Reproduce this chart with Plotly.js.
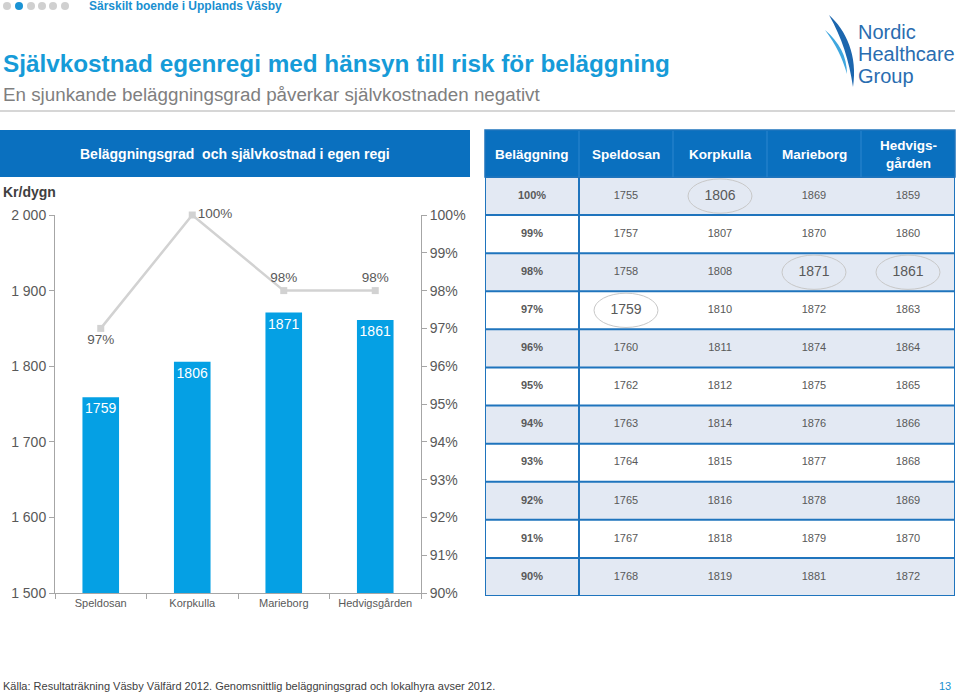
<!DOCTYPE html>
<html>
<head>
<meta charset="utf-8">
<script src="https://cdn.plot.ly/plotly-3.0.1.min.js"></script>
<style>
  html, body { margin: 0; padding: 0; background: #ffffff; }
  #chart { width: 960px; height: 694px; }
</style>
</head>
<body>
<div id="chart"></div>
<script>
// ---------- DATA ----------
const units = ['Speldosan', 'Korpkulla', 'Marieborg', 'Hedvigsgården'];
const costPerDay = [1759, 1806, 1871, 1861];
const occupancy = [0.97, 1.00, 0.98, 0.98];

const tableHeader = ['Beläggning', 'Speldosan', 'Korpkulla', 'Marieborg', 'Hedvigs-<br>gården'];
const tableOccupancy = ['100%', '99%', '98%', '97%', '96%', '95%', '94%', '93%', '92%', '91%', '90%'];
const tableSpeldosan = [1755, 1757, 1758, 1759, 1760, 1762, 1763, 1764, 1765, 1767, 1768];
const tableKorpkulla = [1806, 1807, 1808, 1810, 1811, 1812, 1814, 1815, 1816, 1818, 1819];
const tableMarieborg = [1869, 1870, 1871, 1872, 1874, 1875, 1876, 1877, 1878, 1879, 1881];
const tableHedvigsgarden = [1859, 1860, 1861, 1863, 1864, 1865, 1866, 1868, 1869, 1870, 1872];

// ---------- HELPERS ----------
const W = 960, H = 694;
const px = x => x / W;
const py = y => 1 - y / H;
const FONT = 'Liberation Sans, Arial, sans-serif';
const GRAY = '#595959';
const BLUE_HDR = '#0a70bf';
const BLUE_BAR = '#05a0e4';
const BLUE_LINE = '#1f74bd';

const tableCols = [tableSpeldosan, tableKorpkulla, tableMarieborg, tableHedvigsgarden];
const nRows = tableOccupancy.length;
const pctLabel = v => Math.round(v * 100) + '%';

// which table cell matches each unit's actual occupancy
const highlight = occupancy.map((v, c) => ({ col: c + 1, row: tableOccupancy.indexOf(pctLabel(v)) }));

// ---------- TRACES ----------
const traces = [];

traces.push({
  type: 'bar', x: units, y: costPerDay, xaxis: 'x', yaxis: 'y',
  marker: { color: BLUE_BAR }, width: 0.4,
  text: costPerDay.map(String), textposition: 'inside', insidetextanchor: 'end',
  textangle: 0, constraintext: 'none',
  textfont: { color: '#ffffff', size: 14, family: FONT },
  hoverinfo: 'skip', showlegend: false
});

traces.push({
  type: 'scatter', x: units, y: occupancy, xaxis: 'x', yaxis: 'y2',
  mode: 'lines+markers+text',
  line: { color: '#d2d2d2', width: 2.5 },
  marker: { symbol: 'square', size: 7, color: '#d2d2d2' },
  text: occupancy.map(pctLabel),
  textposition: ['bottom center', 'middle right', 'top center', 'top center'],
  textfont: { color: GRAY, size: 13.5, family: FONT },
  cliponaxis: false, hoverinfo: 'skip', showlegend: false
});

// table background (alternating rows)
traces.push({
  type: 'heatmap', xaxis: 'x3', yaxis: 'y3',
  x: [0, 1, 2, 3, 4], y: tableOccupancy.map((_, i) => i),
  z: tableOccupancy.map((_, i) => [0, 1, 2, 3, 4].map(() => i % 2)),
  colorscale: [[0, '#e3e9f3'], [1, '#ffffff']], zmin: 0, zmax: 1,
  showscale: false, hoverinfo: 'skip'
});

// table first column text
traces.push({
  type: 'scatter', mode: 'text', xaxis: 'x3', yaxis: 'y3',
  x: tableOccupancy.map(() => 0), y: tableOccupancy.map((_, i) => i),
  text: tableOccupancy.map(t => '<b>' + t + '</b>'),
  textfont: { color: GRAY, size: 11, family: FONT },
  textposition: 'middle center', hoverinfo: 'skip', showlegend: false, cliponaxis: false
});

// table value text
const vx = [], vy = [], vt = [], vs = [];
tableCols.forEach((col, c) => {
  col.forEach((v, r) => {
    vx.push(c + 1); vy.push(r); vt.push(String(v));
    const hl = highlight.some(h => h.col === c + 1 && h.row === r);
    vs.push(hl ? 14 : 11);
  });
});
traces.push({
  type: 'scatter', mode: 'text', xaxis: 'x3', yaxis: 'y3',
  x: vx, y: vy, text: vt,
  textfont: { color: GRAY, size: vs, family: FONT },
  textposition: 'middle center', hoverinfo: 'skip', showlegend: false, cliponaxis: false
});

// ---------- SHAPES ----------
const shapes = [];
// top dots
[7, 19, 31, 42, 53, 65].forEach((cx, i) => {
  shapes.push({ type: 'circle', xref: 'paper', yref: 'paper',
    x0: px(cx - 4), x1: px(cx + 4), y0: py(10), y1: py(2),
    fillcolor: i === 1 ? '#1a93d4' : '#d0d0d0', line: { width: 0 } });
});
// separator under subtitle
shapes.push({ type: 'line', xref: 'paper', yref: 'paper', x0: 0, x1: px(955), y0: py(111), y1: py(111),
  line: { color: '#c9c9c9', width: 1.5 } });
// left header bar
shapes.push({ type: 'rect', xref: 'paper', yref: 'paper', x0: 0, x1: px(470), y0: py(177), y1: py(130),
  fillcolor: BLUE_HDR, line: { width: 0 }, layer: 'below' });
// table header bar
shapes.push({ type: 'rect', xref: 'paper', yref: 'paper', x0: px(485), x1: px(955), y0: py(177), y1: py(130),
  fillcolor: BLUE_HDR, line: { color: BLUE_LINE, width: 1.5 }, layer: 'below' });
// header column separators (faint)
[0.5, 1.5, 2.5, 3.5].forEach(xv => {
  shapes.push({ type: 'line', xref: 'x3', yref: 'paper', x0: xv, x1: xv, y0: py(177), y1: py(131),
    line: { color: '#2d86cf', width: 1 } });
});
// table row lines
for (let i = 0; i < nRows - 1; i++) {
  shapes.push({ type: 'line', xref: 'x3', yref: 'y3', x0: -0.5, x1: 4.5, y0: i + 0.5, y1: i + 0.5,
    line: { color: BLUE_LINE, width: 2 } });
}
// first column separator
shapes.push({ type: 'line', xref: 'x3', yref: 'y3', x0: 0.5, x1: 0.5, y0: -0.5, y1: nRows - 0.5,
  line: { color: BLUE_LINE, width: 2 } });
// outer border
shapes.push({ type: 'rect', xref: 'x3', yref: 'y3', x0: -0.5, x1: 4.5, y0: -0.5, y1: nRows - 0.5,
  line: { color: BLUE_LINE, width: 2 } });
// highlight ellipses
highlight.forEach(h => {
  shapes.push({ type: 'circle', xref: 'x3', yref: 'y3',
    x0: h.col - 0.34, x1: h.col + 0.34, y0: h.row - 0.45, y1: h.row + 0.45,
    line: { color: '#c8c8c8', width: 1 } });
});
// logo swoosh
const P = pts => pts.map(s => typeof s === 'string' ? s : px(s[0]) + ',' + py(s[1])).join(' ');
shapes.push({ type: 'path', xref: 'paper', yref: 'paper',
  path: P(['M', [829, 15], 'C', [846, 30], [858, 56], [853, 87], 'C', [849, 60], [842, 38], [829, 15], 'Z']),
  fillcolor: '#1c66ae', line: { width: 0 } });
shapes.push({ type: 'path', xref: 'paper', yref: 'paper',
  path: P(['M', [825, 30], 'C', [839, 42], [847, 56], [847, 74], 'C', [842, 57], [836, 45], [825, 30], 'Z']),
  fillcolor: '#3fa7df', line: { width: 0 } });

// ---------- ANNOTATIONS ----------
const ann = [];
const txt = (x, y, text, size, color, opts = {}) => Object.assign({
  xref: 'paper', yref: 'paper', x: px(x), y: py(y), text, showarrow: false,
  xanchor: 'left', yanchor: 'middle', font: { family: FONT, size, color }
}, opts);

ann.push(txt(87, 6, '<b>Särskilt boende i Upplands Väsby</b>', 12, '#1a8fd0'));
ann.push(txt(1, 63, '<b>Självkostnad egenregi med hänsyn till risk för beläggning</b>', 24.3, '#169bd8'));
ann.push(txt(1, 95, 'En sjunkande beläggningsgrad påverkar självkostnaden negativt', 18.8, '#7f7f7f'));
ann.push(txt(235, 154, '<b>Beläggningsgrad  och självkostnad i egen regi</b>', 14, '#ffffff', { xanchor: 'center' }));
ann.push(txt(1, 192, '<b>Kr/dygn</b>', 14, '#404040'));
ann.push(txt(1, 686, 'Källa: Resultaträkning Väsby Välfärd 2012. Genomsnittlig beläggningsgrad och lokalhyra avser 2012.', 11, '#404040'));
ann.push(txt(953, 686, '13', 11, '#1a8fd0', { xanchor: 'right' }));
// logo text
ann.push(txt(856, 32, 'Nordic', 20, '#2a6db0'));
ann.push(txt(856, 54, 'Healthcare', 20, '#2a6db0'));
ann.push(txt(856, 76, 'Group', 20, '#2a6db0'));
// table header labels
tableHeader.forEach((h, i) => {
  ann.push({ xref: 'x3', yref: 'paper', x: i, y: py(154), text: '<b>' + h + '</b>', showarrow: false,
    xanchor: 'center', yanchor: 'middle', font: { family: FONT, size: 13.5, color: '#ffffff' } });
});

// ---------- LAYOUT ----------
const axisCommon = {
  showline: true, linecolor: '#a6a6a6', linewidth: 1,
  ticks: 'outside', ticklen: 5, tickcolor: '#a6a6a6', tickwidth: 1,
  showgrid: false, zeroline: false, fixedrange: true
};

const layout = {
  width: W, height: H, margin: { l: 0, r: 0, t: 0, b: 0 },
  paper_bgcolor: '#ffffff', plot_bgcolor: 'rgba(0,0,0,0)',
  separators: ', ', showlegend: false, hovermode: false,
  font: { family: FONT, color: GRAY },
  xaxis: Object.assign({}, axisCommon, {
    type: 'category', domain: [px(55), px(421)], anchor: 'y',
    tickson: 'boundaries', tickfont: { size: 11, color: GRAY, family: FONT }
  }),
  yaxis: Object.assign({}, axisCommon, {
    domain: [py(593), py(215)], range: [1500, 2000], dtick: 100, tick0: 1500,
    tickformat: ',d', tickfont: { size: 14, color: GRAY, family: FONT }, anchor: 'x'
  }),
  yaxis2: Object.assign({}, axisCommon, {
    overlaying: 'y', side: 'right', anchor: 'x', range: [0.9, 1.0], dtick: 0.01, tick0: 0.9,
    tickformat: '.0%', tickfont: { size: 14, color: GRAY, family: FONT }
  }),
  xaxis3: { domain: [px(485), px(955)], range: [-0.5, 4.5], visible: false, anchor: 'y3', fixedrange: true },
  yaxis3: { domain: [py(596), py(177)], range: [nRows - 0.5, -0.5], visible: false, anchor: 'x3', fixedrange: true },
  shapes: shapes,
  annotations: ann
};

Plotly.newPlot('chart', traces, layout, { staticPlot: true, displayModeBar: false });
</script>
</body>
</html>
